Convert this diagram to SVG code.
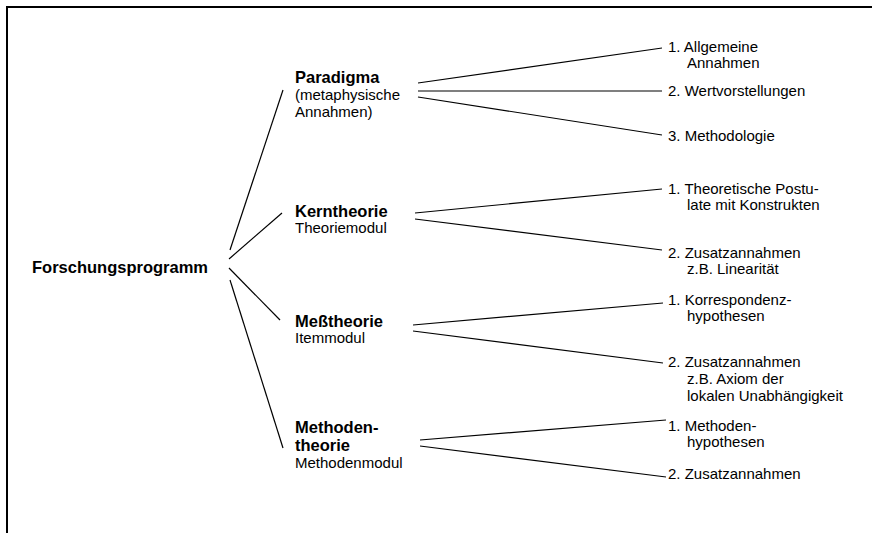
<svg xmlns="http://www.w3.org/2000/svg" width="872" height="533" viewBox="0 0 872 533">
<style>
text{font-family:"Liberation Sans",Arial,sans-serif;fill:#000}
.b{font-weight:bold;font-size:16.5px}
.n{font-size:15px}
.c line{stroke:#000;stroke-width:1.2}
</style>
<rect width="872" height="533" fill="#fff"/>
<path d="M7 533V7H872" fill="none" stroke="#000" stroke-width="2"/>
<g class="c" id="connectors">
<line x1="230" y1="250" x2="283" y2="90"/>
<line x1="229" y1="259" x2="282" y2="213"/>
<line x1="229" y1="268" x2="280" y2="320"/>
<line x1="230" y1="280" x2="283" y2="448"/>
<line x1="418" y1="83" x2="662" y2="48"/>
<line x1="418" y1="91" x2="662" y2="91"/>
<line x1="418" y1="97" x2="662" y2="135"/>
<line x1="415" y1="213" x2="662" y2="189"/>
<line x1="415" y1="219" x2="662" y2="250"/>
<line x1="413" y1="325" x2="663" y2="303"/>
<line x1="413" y1="331" x2="663" y2="363"/>
<line x1="420" y1="440" x2="666" y2="420"/>
<line x1="420" y1="446" x2="666" y2="477"/>
</g>
<g id="root"><text class="b" x="32" y="273">Forschungsprogramm</text></g>
<g id="paradigma"><text class="b" x="295" y="83">Paradigma</text><text class="n" x="295" y="100">(metaphysische</text><text class="n" x="295" y="117">Annahmen)</text></g>
<g id="kerntheorie"><text class="b" x="295" y="217">Kerntheorie</text><text class="n" x="295" y="233">Theoriemodul</text></g>
<g id="messtheorie"><text class="b" x="295" y="327">Meßtheorie</text><text class="n" x="295" y="343">Itemmodul</text></g>
<g id="methodentheorie"><text class="b" x="295" y="433">Methoden-</text><text class="b" x="295" y="451">theorie</text><text class="n" x="295" y="468">Methodenmodul</text></g>
<g id="p1"><text class="n" x="668" y="52">1. Allgemeine</text><text class="n" x="687" y="68">Annahmen</text></g>
<g id="p2"><text class="n" x="668" y="96">2. Wertvorstellungen</text></g>
<g id="p3"><text class="n" x="668" y="141">3. Methodologie</text></g>
<g id="k1"><text class="n" x="668" y="194">1. Theoretische Postu-</text><text class="n" x="687" y="210">late mit Konstrukten</text></g>
<g id="k2"><text class="n" x="668" y="258">2. Zusatzannahmen</text><text class="n" x="687" y="274">z.B. Linearität</text></g>
<g id="m1"><text class="n" x="668" y="305">1. Korrespondenz-</text><text class="n" x="687" y="321">hypothesen</text></g>
<g id="m2"><text class="n" x="668" y="367">2. Zusatzannahmen</text><text class="n" x="687" y="384">z.B. Axiom der</text><text class="n" x="687" y="401">lokalen Unabhängigkeit</text></g>
<g id="t1"><text class="n" x="668" y="431">1. Methoden-</text><text class="n" x="687" y="447">hypothesen</text></g>
<g id="t2"><text class="n" x="668" y="479">2. Zusatzannahmen</text></g>
</svg>
